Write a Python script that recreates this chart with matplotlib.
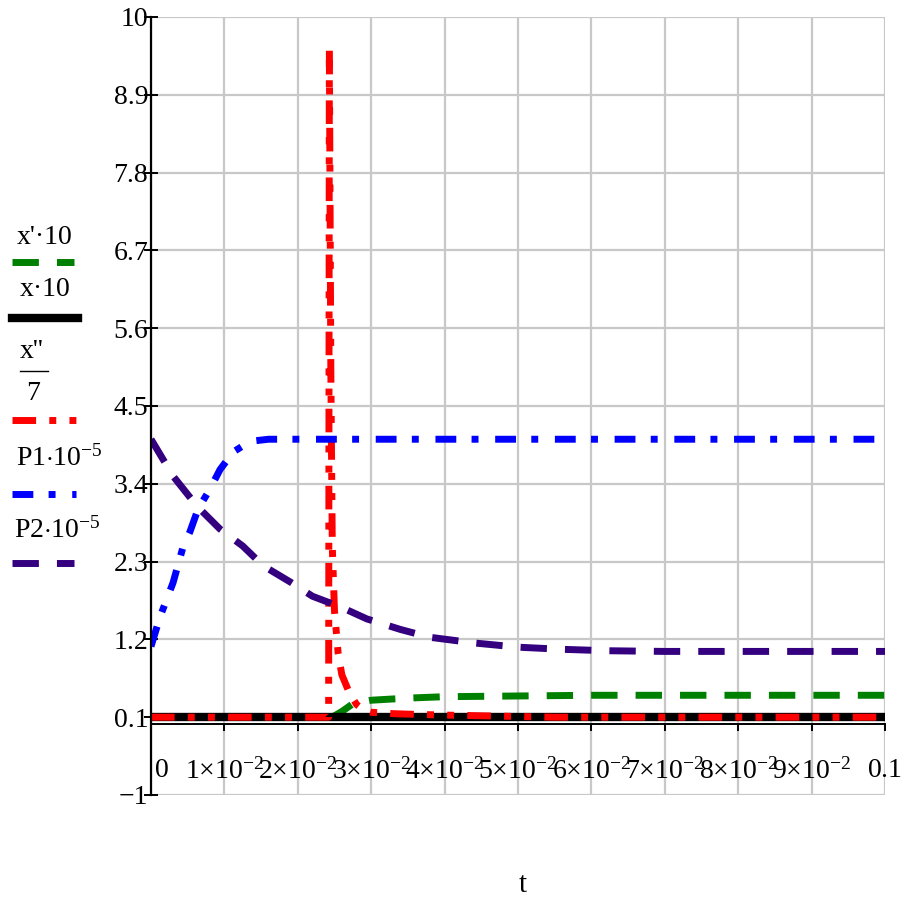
import matplotlib
matplotlib.use('Agg')
import matplotlib.pyplot as plt

plt.rcParams['font.family'] = ['Liberation Serif', 'DejaVu Serif']
plt.rcParams['mathtext.fontset'] = 'custom'
plt.rcParams['mathtext.rm'] = 'Liberation Serif'
plt.rcParams['mathtext.it'] = 'Liberation Serif:italic'

# values
t_green = [0, 0.0245, 0.025, 0.026, 0.0275, 0.03, 0.035, 0.04, 0.05, 0.06, 0.1]
x1_10 = [0.1, 0.1, 0.12, 0.18, 0.29, 0.34, 0.37, 0.39, 0.40, 0.41, 0.41]

t_black = [0, 0.05, 0.1]
x_10 = [0.1, 0.1, 0.1]

t_red = [0, 0.0242, 0.0243, 0.0245, 0.0247, 0.025, 0.0255, 0.026, 0.027, 0.028,
         0.029, 0.03, 0.033, 0.036, 0.04, 0.045, 0.05, 0.055, 0.1]
x2_7 = [0.1, 0.1, 9.55, 5.0, 2.5, 1.6, 1.0, 0.7, 0.45, 0.28,
        0.2, 0.17, 0.15, 0.14, 0.13, 0.12, 0.11, 0.1, 0.1]

t_p1 = [0, 0.0012, 0.0023, 0.003, 0.0044, 0.0053, 0.0064, 0.008, 0.0094, 0.0112,
        0.0135, 0.016, 0.02, 0.1]
p1 = [1.1, 1.51, 1.81, 2.0, 2.52, 2.72, 3.04, 3.32, 3.6, 3.85, 4.0, 4.03, 4.03, 4.03]

t_p2 = [0, 0.003, 0.0063, 0.0094, 0.0125, 0.0153, 0.019, 0.022, 0.0258, 0.0294,
        0.034, 0.038, 0.044, 0.05, 0.056, 0.062, 0.07, 0.1]
p2 = [4.03, 3.51, 3.08, 2.76, 2.52, 2.24, 2.01, 1.81, 1.66, 1.49,
      1.34, 1.23, 1.15, 1.09, 1.06, 1.04, 1.03, 1.03]

yticks = [-1, 0.1, 1.2, 2.3, 3.4, 4.5, 5.6, 6.7, 7.8, 8.9, 10]
ytick_labels = ['\u22121', '0.1', '1.2', '2.3', '3.4', '4.5', '5.6', '6.7', '7.8', '8.9', '10']
xticks = [0, 0.01, 0.02, 0.03, 0.04, 0.05, 0.06, 0.07, 0.08, 0.09, 0.1]
xtick_labels = (['$\\quad$0$^{\\,}$'] + ['%d\u00d710$^{-2}$' % k for k in range(1, 10)]
                + ['0.1$^{\\,}$'])

green = '#008000'
red = '#ff0000'
blue = '#0000ff'
purple = '#35007f'
lw = 5.0
dash_g = (0, (3.8, 2.6))
dash_r = (0, (3.4, 1.9, 1.0, 1.9, 1.0, 1.9))
dash_b = (0, (3.0, 2.2, 1.0, 2.4))

fig = plt.figure(figsize=(9.09, 8.97), dpi=100)
ax = fig.add_axes([151 / 909, 1 - 795 / 897, 734 / 909, 778 / 897])

ax.plot(t_green, x1_10, color=green, lw=lw, linestyle=dash_g)
ax.plot(t_black, x_10, color='black', lw=6.0)
ax.plot(t_red, x2_7, color=red, lw=lw, linestyle=dash_r)
ax.plot(t_p1, p1, color=blue, lw=lw, linestyle=dash_b)
ax.plot(t_p2, p2, color=purple, lw=lw, linestyle=dash_g)

ax.set_xlim(0, 0.1)
ax.set_ylim(-1, 10)
ax.set_yticks(yticks)
ax.set_yticklabels(ytick_labels)
ax.set_xticks(xticks)
ax.set_xticklabels(xtick_labels)
ax.grid(True, color='#c8c8c8', lw=1.6)
ax.set_axisbelow(True)

for s in ['top', 'right']:
    ax.spines[s].set_visible(False)
ax.spines['left'].set_linewidth(1.6)
ax.spines['bottom'].set_position(('data', 0))
ax.spines['bottom'].set_linewidth(1.4)
ax.tick_params(axis='y', direction='inout', length=10, width=1.4, pad=-3, labelsize=20)
ax.tick_params(axis='x', direction='out', length=5, width=1.4, pad=19, labelsize=20)

fig.text(523 / 909, 1 - 885 / 897, 't', fontsize=21, ha='center', va='center')

# legend on the left, in pixel coordinates
lg = fig.add_axes([0, 0, 1, 1])
lg.set_xlim(0, 909)
lg.set_ylim(897, 0)
lg.axis('off')
lg.patch.set_alpha(0)
fs = 20
lg.text(45, 238, "x'\u00b710", fontsize=fs, ha='center', va='center')
lg.plot([12, 74], [262, 262], color=green, lw=lw, linestyle=dash_g)
lg.text(45, 290, "x\u00b710", fontsize=fs, ha='center', va='center')
lg.plot([12, 78], [318, 318], color='black', lw=6.0)
lg.text(32, 352, "x''", fontsize=fs, ha='center', va='center')
lg.plot([20, 48], [371, 371], color='black', lw=1.0)
lg.text(33, 393, "7", fontsize=fs, ha='center', va='center')
lg.plot([12, 76], [420, 420], color=red, lw=lw, linestyle=dash_r)
lg.text(16, 458, r'P1$\cdot$10$^{-5}$', fontsize=fs, ha='left', va='center')
lg.plot([12, 76], [494, 494], color=blue, lw=lw, linestyle=dash_b)
lg.text(14, 530, r'P2$\cdot$10$^{-5}$', fontsize=fs, ha='left', va='center')
lg.plot([12, 74], [563, 563], color=purple, lw=lw, linestyle=dash_g)

fig.savefig('out.png', dpi=100)
